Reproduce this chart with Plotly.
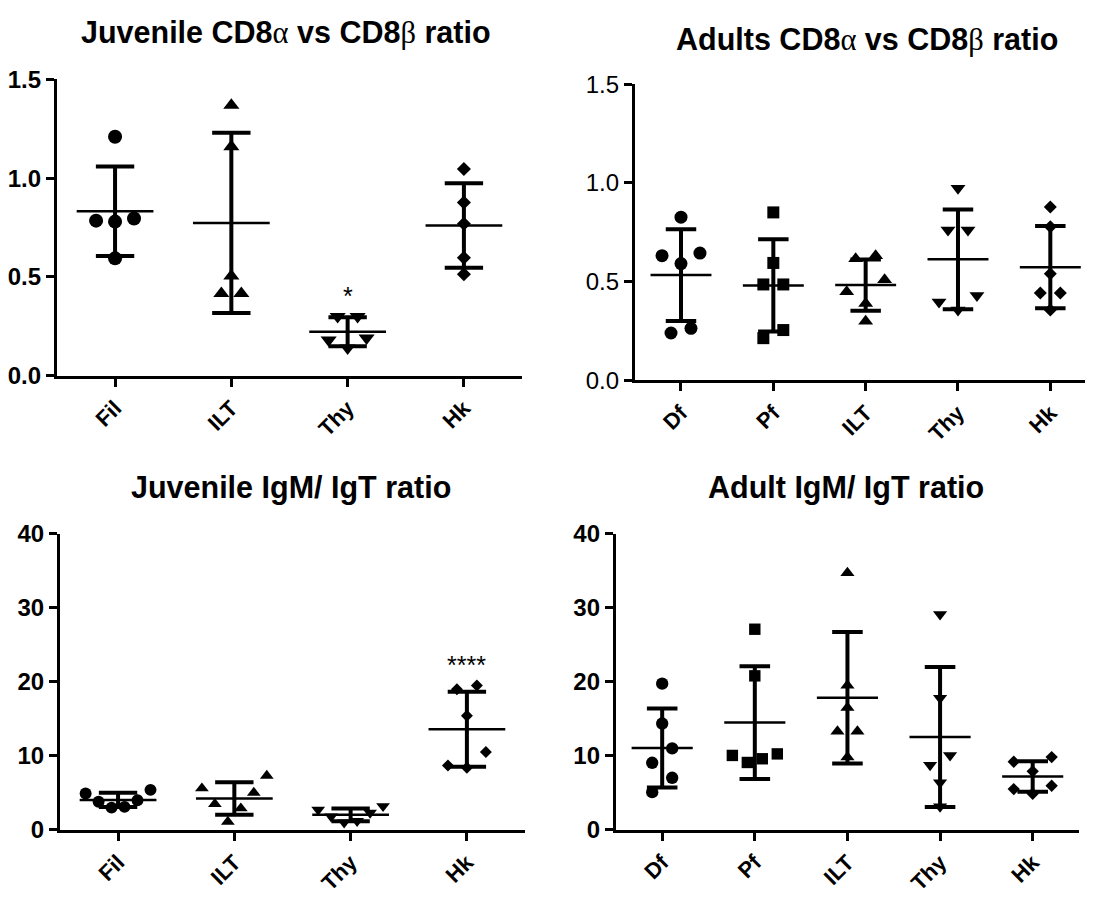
import statistics
import plotly.graph_objects as go

# The page has an 8 px body margin, so the figure is sized to fit the window
PAGE_W, PAGE_H, BODY = 1093, 903, 8
W, H = PAGE_W - 2 * BODY, PAGE_H - 2 * BODY

# ---------------- data ----------------
JUV_CD8_CATS = ["Fil", "ILT", "Thy", "Hk"]
JUV_CD8_FIL = [1.21, 0.796, 0.785, 0.78, 0.594]
JUV_CD8_ILT = [1.37, 1.16, 0.505, 0.416, 0.416]
JUV_CD8_THY = [0.30, 0.30, 0.19, 0.18, 0.14]
JUV_CD8_HK = [1.047, 0.877, 0.769, 0.597, 0.513]

ADU_CD8_CATS = ["Df", "Pf", "ILT", "Thy", "Hk"]
ADU_CD8_DF = [0.827, 0.645, 0.632, 0.592, 0.264, 0.24]
ADU_CD8_PF = [0.851, 0.595, 0.486, 0.486, 0.255, 0.214]
ADU_CD8_ILT = [0.632, 0.616, 0.51, 0.449, 0.389, 0.30]
ADU_CD8_THY = [0.973, 0.762, 0.762, 0.43, 0.397, 0.357]
ADU_CD8_HK = [0.879, 0.778, 0.54, 0.443, 0.443, 0.357]

JUV_IG_CATS = ["Fil", "ILT", "Thy", "Hk"]
JUV_IG_FIL = [5.4, 4.9, 4.0, 3.8, 3.1, 3.0]
JUV_IG_ILT = [7.3, 5.6, 5.0, 3.5, 2.9, 1.1]
JUV_IG_THY = [3.2, 2.7, 2.3, 1.8, 1.2, 1.0]
JUV_IG_HK = [19.5, 19.0, 15.4, 10.5, 8.7, 8.4]

ADU_IG_CATS = ["Df", "Pf", "ILT", "Thy", "Hk"]
ADU_IG_DF = [19.75, 14.36, 11.0, 9.06, 7.03, 5.09]
ADU_IG_PF = [27.1, 20.8, 10.26, 10.05, 9.6, 9.1]
ADU_IG_ILT = [34.7, 19.5, 16.5, 13.3, 13.3, 9.8]
ADU_IG_THY = [29.1, 17.8, 10.05, 8.76, 6.38, 3.15]
ADU_IG_HK = [9.83, 9.2, 7.9, 5.95, 5.5, 4.87]

GREEK = "<span style='font-family:Liberation Serif;font-weight:normal'>{}</span>"
TITLES = [
    "<b>Juvenile CD8</b>" + GREEK.format("α") + "<b> vs CD8</b>" + GREEK.format("β") + "<b> ratio</b>",
    "<b>Adults CD8</b>" + GREEK.format("α") + "<b> vs CD8</b>" + GREEK.format("β") + "<b> ratio</b>",
    "<b>Juvenile IgM/ IgT ratio</b>",
    "<b>Adult IgM/ IgT ratio</b>",
]
SIGNIF = [(0, "Thy", "*"), (2, "Hk", "****")]

# ---------------- style / layout ----------------
FONT = "Liberation Sans, Arial, sans-serif"
SYMBOLS = {"Fil": "circle", "Df": "circle", "Pf": "square", "ILT": "triangle-up",
           "Thy": "triangle-down", "Hk": "diamond"}
MSIZE = {"circle": 13, "square": 12, "triangle-up": 13, "triangle-down": 13, "diamond": 10}
CLUSTER_PX = 15
STEP_PX = {1: 0, 2: 20, 3: 19, 4: 15, 5: 14, 6: 13}

# panel boxes in page pixels
PANELS = [
    dict(cats=JUV_CD8_CATS, groups=[JUV_CD8_FIL, JUV_CD8_ILT, JUV_CD8_THY, JUV_CD8_HK],
         x0=55, x1=521, yt=68, yb=377, ymax=1.5, dtick=0.5, fmt=".1f", spacing=116.5,
         bold=True, mscale=1.08),
    dict(cats=ADU_CD8_CATS, groups=[ADU_CD8_DF, ADU_CD8_PF, ADU_CD8_ILT, ADU_CD8_THY, ADU_CD8_HK],
         x0=634, x1=PAGE_W, yt=73, yb=382, ymax=1.5, dtick=0.5, fmt=".1f", spacing=92.5,
         bold=False, mscale=1.0),
    dict(cats=JUV_IG_CATS, groups=[JUV_IG_FIL, JUV_IG_ILT, JUV_IG_THY, JUV_IG_HK],
         x0=58, x1=524, yt=542, yb=851, ymax=40, dtick=10, fmt="d", spacing=116.5,
         bold=True, mscale=0.92),
    dict(cats=ADU_IG_CATS, groups=[ADU_IG_DF, ADU_IG_PF, ADU_IG_ILT, ADU_IG_THY, ADU_IG_HK],
         x0=615, x1=1079, yt=542, yb=851, ymax=40, dtick=10, fmt="d", spacing=92.8,
         bold=True, mscale=0.95),
]
TITLE_POS = [(285, 19), (867, 26), (290, 494), (846, 494)]


def fx(px):
    return (px - BODY) / W


def fy(py):
    return 1 - (py - BODY) / H


def swarm_offsets(vals, px_per_unit, spacing_px):
    n = len(vals)
    order = sorted(range(n), key=lambda i: -vals[i])
    clusters, cur = [], [order[0]]
    for prev, i in zip(order, order[1:]):
        if (vals[prev] - vals[i]) * px_per_unit < CLUSTER_PX:
            cur.append(i)
        else:
            clusters.append(cur)
            cur = [i]
    clusters.append(cur)
    offs = [0.0] * n
    for c in clusters:
        k = len(c)
        step = STEP_PX.get(k, 12)
        slots = [(j - (k - 1) / 2) * step for j in range(k)]
        slot_order = []
        lo, hi = 0, k - 1
        while lo <= hi:
            slot_order.append(hi)
            if lo != hi:
                slot_order.append(lo)
            hi -= 1
            lo += 1
        for idx, pt in zip(slot_order, c):
            offs[pt] = slots[idx] / spacing_px
    return offs


fig = go.Figure()
annotations = []

for p_i, P in enumerate(PANELS):
    sfx = "" if p_i == 0 else str(p_i + 1)
    xa, ya = "x" + sfx, "y" + sfx
    px_per_unit = (P["yb"] - P["yt"]) / P["ymax"]
    x1 = min(P["x1"], PAGE_W - BODY)
    xr = [-0.5, -0.5 + (x1 - P["x0"]) / P["spacing"]]

    # error bars (mean +/- SD) first
    lx, ly, mx, my = [], [], [], []
    for gi, vals in enumerate(P["groups"]):
        m = statistics.mean(vals)
        sd = statistics.stdev(vals)
        lx += [gi, gi, None, gi - 0.165, gi + 0.165, None, gi - 0.165, gi + 0.165, None]
        ly += [m - sd, m + sd, None, m + sd, m + sd, None, m - sd, m - sd, None]
        mx += [gi - 0.33, gi + 0.33, None]
        my += [m, m, None]
    fig.add_trace(go.Scatter(x=lx, y=ly, mode="lines", line=dict(color="black", width=4),
                             xaxis=xa, yaxis=ya, showlegend=False, hoverinfo="skip", cliponaxis=False))
    fig.add_trace(go.Scatter(x=mx, y=my, mode="lines", line=dict(color="black", width=2.5),
                             xaxis=xa, yaxis=ya, showlegend=False, hoverinfo="skip", cliponaxis=False))

    for gi, vals in enumerate(P["groups"]):
        cat = P["cats"][gi]
        sym = SYMBOLS[cat]
        offs = swarm_offsets(vals, px_per_unit, P["spacing"])
        fig.add_trace(go.Scatter(
            x=[gi + o for o in offs], y=vals, mode="markers",
            marker=dict(symbol=sym, size=MSIZE[sym] * P["mscale"], color="black", line=dict(width=0)),
            xaxis=xa, yaxis=ya, showlegend=False, cliponaxis=False))

    fig.layout["xaxis" + sfx] = dict(
        domain=[fx(P["x0"]), fx(x1)], range=xr, anchor=ya,
        tickmode="array", tickvals=list(range(len(P["cats"]))), ticktext=P["cats"],
        tickangle=-45, showline=True, linewidth=3, linecolor="black", ticks="outside",
        ticklen=8, tickwidth=3, tickcolor="black", showgrid=False, zeroline=False,
        tickfont=dict(family=FONT, size=22, color="black", weight="bold"))
    fig.layout["yaxis" + sfx] = dict(
        domain=[fy(P["yb"]), fy(P["yt"])], range=[0, P["ymax"]], anchor=xa,
        tickmode="linear", tick0=0, dtick=P["dtick"], tickformat=P["fmt"],
        showline=True, linewidth=3, linecolor="black", ticks="outside",
        ticklen=8, tickwidth=3, tickcolor="black", showgrid=False, zeroline=False,
        tickfont=dict(family=FONT, size=24, color="black",
                      weight="bold" if P["bold"] else "normal"))

    tx, ty = TITLE_POS[p_i]
    annotations.append(dict(text=TITLES[p_i], xref="paper", yref="paper", x=fx(tx), y=fy(ty),
                            xanchor="center", yanchor="middle", showarrow=False,
                            font=dict(family=FONT, size=30.5, color="black")))

for p_i, cat, txt in SIGNIF:
    P = PANELS[p_i]
    sfx = "" if p_i == 0 else str(p_i + 1)
    gi = P["cats"].index(cat)
    annotations.append(dict(text=txt, xref="x" + sfx, yref="y" + sfx, x=gi, y=max(P["groups"][gi]),
                            xanchor="center", yanchor="bottom", yshift=4, showarrow=False,
                            font=dict(family=FONT, size=25, color="black")))

fig.update_layout(width=W, height=H, margin=dict(l=0, r=0, t=0, b=0),
                  paper_bgcolor="white", plot_bgcolor="white", annotations=annotations,
                  showlegend=False)
fig.write_html("out.html")
